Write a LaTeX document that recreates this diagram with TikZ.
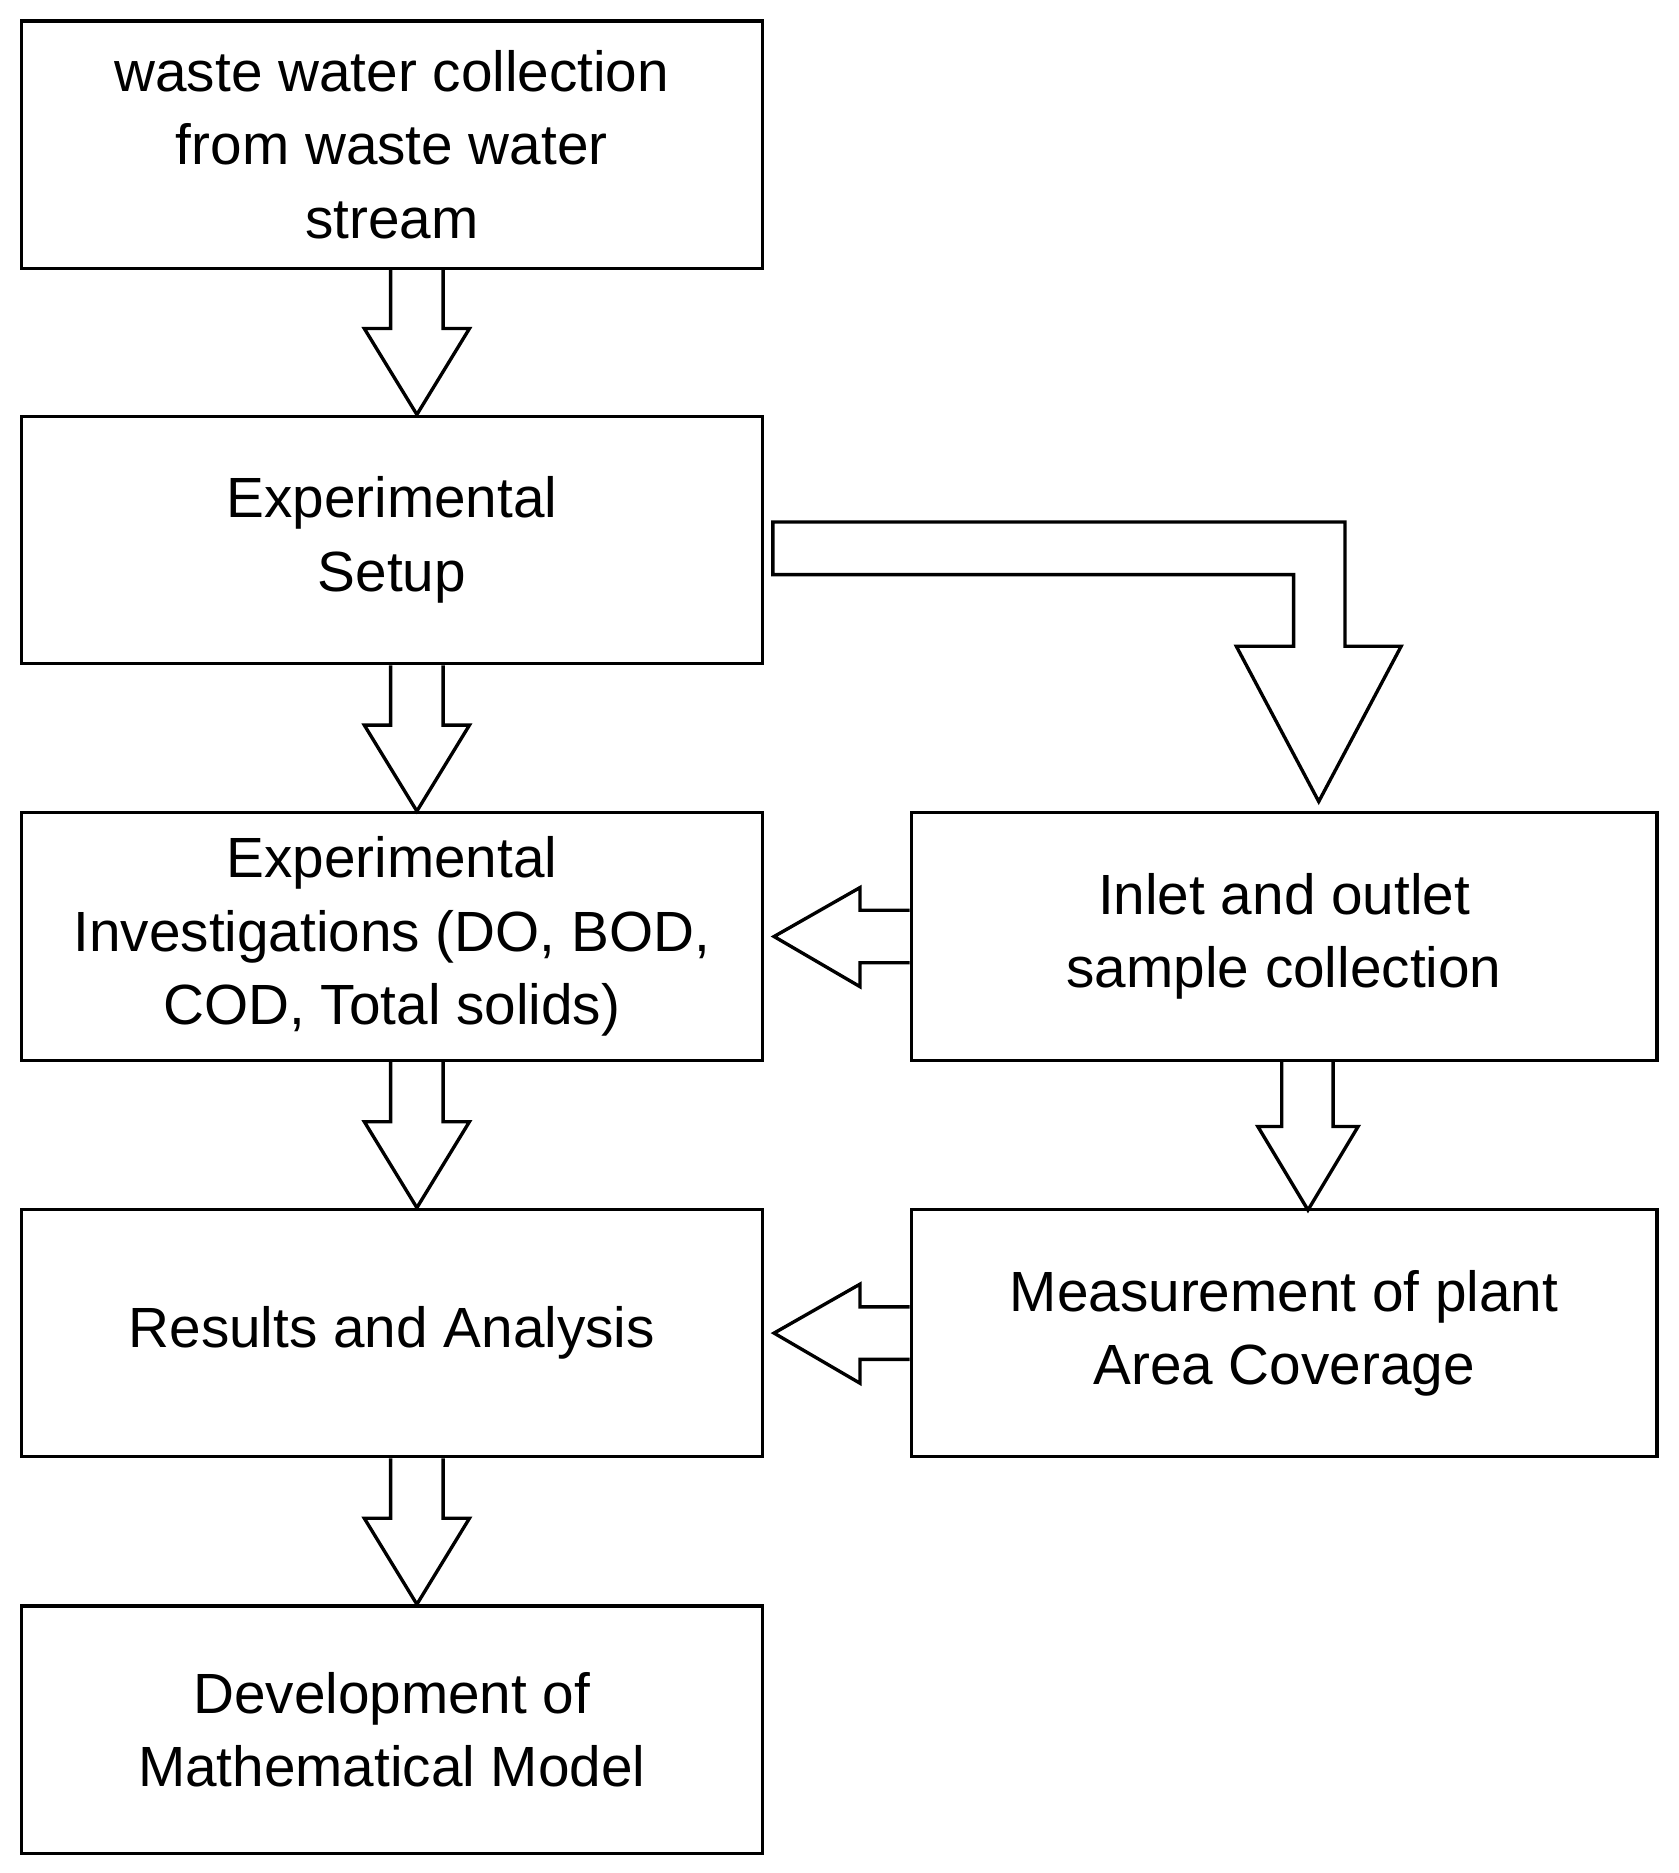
\documentclass[tikz,border=0pt]{standalone}
\usepackage{fontspec}
\setmainfont{Liberation Sans}
\usetikzlibrary{calc}
\begin{document}
\begin{tikzpicture}[x=0.01cm,y=-0.01cm,line width=0.8pt,
  box/.style={draw,rectangle,minimum width=6.2cm,minimum height=2.07cm,align=center,
    font=\fontsize{13.5pt}{17.5pt}\selectfont,inner sep=0pt},
  rbox/.style={box,minimum width=6.24cm},
  barrow/.style={draw,line join=miter}]
\useasboundingbox (0,0) rectangle (1405,1568);
\node[box] (b1) at (328,121) {waste water collection\\from waste water\\stream};
\node[box] (b2) at (328,452) {Experimental\\Setup};
\node[box] (b3) at (328,784) {Experimental\\Investigations (DO, BOD,\\COD, Total solids)};
\node[box] (b4) at (328,1116) {Results and Analysis};
\node[box] (b5) at (328,1448) {Development of\\Mathematical Model};
\node[rbox] (r1) at (1075,784) {Inlet and outlet\\sample collection};
\node[rbox] (r2) at (1075,1116) {Measurement of plant\\Area Coverage};
% down block arrows
\foreach \a/\b in {b1/b2,b2/b3,b3/b4,b4/b5}{
  \path ($(\a.south)+(21,0)$) coordinate (s) ($(\b.north)+(21,0)$) coordinate (t);
  \draw[barrow] ($(s)+(-22,0)$) -- ($(t)+(-22,-72)$) -- ($(t)+(-44,-72)$) -- (t)
    -- ($(t)+(44,-72)$) -- ($(t)+(22,-72)$) -- ($(s)+(22,0)$);
}
% right down arrow
\draw[barrow] (1073,888) -- (1073,943) -- (1053,943) -- (1095,1013) -- (1137,943) -- (1116,943) -- (1116,888);
% left arrows
\draw[barrow] (r1.west |- 0,762) -- (720,762) -- (720,743) -- (648,784) -- (720,826) -- (720,806) -- (r1.west |- 0,806);
\draw[barrow] (r2.west |- 0,1094) -- (720,1094) -- (720,1075) -- (648,1116) -- (720,1158) -- (720,1138) -- (r2.west |- 0,1138);
% elbow arrow
\draw[barrow] (647,437) -- (1126,437) -- (1126,541) -- (1173,541) -- (1104,671) -- (1035,541) -- (1083,541) -- (1083,481) -- (647,481) -- cycle;
\end{tikzpicture}
\end{document}
